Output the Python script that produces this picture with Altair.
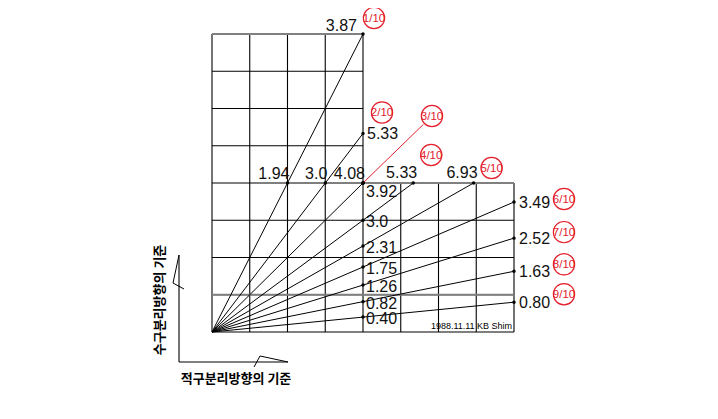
import math
import altair as alt
import pandas as pd

# ---------------- data ----------------
fractions = ["1/10", "2/10", "3/10", "4/10", "5/10", "6/10", "7/10", "8/10", "9/10"]
end_x = [4, 4, 4, 5.33, 6.93, 8, 8, 8, 8]
end_y = [8, 5.33, 4, 4, 4, 3.49, 2.52, 1.63, 0.80]
end_labels = ["3.87", "5.33", "", "5.33", "6.93", "3.49", "2.52", "1.63", "0.80"]
top_labels = ["1.94", "3.0", "4.08"]                                   # rays 1-3 crossing y = 4
side_labels = ["3.92", "3.0", "2.31", "1.75", "1.26", "0.82", "0.40"]  # rays 3-9 crossing x = 4
author = "1988.11.11  KB Shim"
title_v = "수구분리방향의 기준"
title_h = "적구분리방향의 기준"

# ---------------- layout ----------------
W, H = 700, 400
PX, PY = 37.75, 37.25           # pixels per grid cell
X0, Y0 = 212 - 8, 332 - 8       # origin inside the view
XMIN = -X0 / PX
XMAX = XMIN + W / PX
YMAX = Y0 / PY
YMIN = YMAX - H / PY
RED = "#e3202b"
R_CIRC = 12
callout_offset_px = [(11, -16), (19, -21), (69, -67), (18, -28), (18, -15),
                     (50, -3), (50, -6), (50, -7), (50, -8)]

xs = alt.Scale(domain=[XMIN, XMAX], nice=False, zero=False)
ys = alt.Scale(domain=[YMIN, YMAX], nice=False, zero=False)


def X(f):
    return alt.X(f"{f}:Q", scale=xs, axis=None)


def Y(f):
    return alt.Y(f"{f}:Q", scale=ys, axis=None)


# ---------------- tables ----------------
grid_rows = []
for c in range(9):
    grid_rows.append(dict(x=c, y=0, x2=c, y2=8 if c <= 4 else 4))
for r in range(9):
    grid_rows.append(dict(x=0, y=r, x2=8 if r <= 4 else 4, y2=r))
grid = pd.DataFrame(grid_rows)
grey = pd.DataFrame([dict(x=0, y=1, x2=8, y2=1), dict(x=4, y=4, x2=8, y2=4),
                     dict(x=0, y=8, x2=4, y2=8)])

rays = pd.DataFrame(dict(x=[0] * 9, y=[0] * 9, x2=end_x, y2=end_y, frac=fractions))
ends = pd.DataFrame(dict(x=end_x, y=end_y, text=end_labels))

top_pts = pd.DataFrame(dict(x=[4 * end_x[i] / end_y[i] for i in range(3)],
                            y=[4] * 3, text=top_labels))
side_pts = pd.DataFrame(dict(x=[4] * 7, y=[4 * end_y[i] / end_x[i] for i in range(2, 9)],
                             text=side_labels))

cx = [end_x[i] + callout_offset_px[i][0] / PX for i in range(9)]
cy = [end_y[i] - callout_offset_px[i][1] / PY for i in range(9)]
circles = pd.DataFrame(dict(x=cx, y=cy, text=fractions))

# red leader for 3/10
dxp, dyp = callout_offset_px[2]
L = math.hypot(dxp, dyp)
k = (L - R_CIRC) / L
leader = pd.DataFrame(dict(x=[end_x[2]], y=[end_y[2]],
                           x2=[end_x[2] + k * dxp / PX], y2=[end_y[2] - k * dyp / PY]))

# reference direction symbol (bottom-left)
sym_v = pd.DataFrame(dict(x=[-0.874, -0.874], y=[2.067, -0.805], x2=[-0.874, 2.013], y2=[-0.805, -0.805]))
lead_v = pd.DataFrame(dict(x=[-0.874, -1.033, -0.742], y=[2.067, 1.315, 1.154], o=[0, 1, 2]))
lead_h = pd.DataFrame(dict(x=[2.013, 1.272, 1.113], y=[-0.805, -0.644, -0.940], o=[0, 1, 2]))

titles = pd.DataFrame(dict(x=[-1.39, 0.636], y=[0.86, -1.26], text=[title_v, title_h], a=[270, 0]))
foot = pd.DataFrame(dict(x=[7.95], y=[0.15], text=[author]))

NUMFONT = dict(font="Liberation Sans", fontSize=16, color="#111111")

layers = [
    alt.Chart(grid).mark_rule(color="#000000", strokeWidth=1.1).encode(
        x=X("x"), y=Y("y"), x2="x2", y2="y2"),
    alt.Chart(grey).mark_rule(color="#808080", strokeWidth=2).encode(
        x=X("x"), y=Y("y"), x2="x2", y2="y2"),
    alt.Chart(rays).mark_rule(color="#000000", strokeWidth=1).encode(
        x=X("x"), y=Y("y"), x2="x2", y2="y2"),
    alt.Chart(leader).mark_rule(color=RED, strokeWidth=1).encode(
        x=X("x"), y=Y("y"), x2="x2", y2="y2"),
    alt.Chart(ends).mark_point(filled=True, size=12, color="#000000", opacity=1).encode(
        x=X("x"), y=Y("y")),
    alt.Chart(top_pts).mark_point(filled=True, size=12, color="#000000", opacity=1).encode(
        x=X("x"), y=Y("y")),
    alt.Chart(side_pts).mark_point(filled=True, size=12, color="#000000", opacity=1).encode(
        x=X("x"), y=Y("y")),
    # labels
    alt.Chart(ends.iloc[[0]]).mark_text(align="right", baseline="alphabetic", dx=-6, dy=-3, **NUMFONT).encode(
        x=X("x"), y=Y("y"), text="text:N"),
    alt.Chart(ends.iloc[[1]]).mark_text(align="left", baseline="middle", dx=4, dy=1, **NUMFONT).encode(
        x=X("x"), y=Y("y"), text="text:N"),
    alt.Chart(ends.iloc[[3, 4]]).mark_text(align="right", baseline="alphabetic", dx=4, dy=-5, **NUMFONT).encode(
        x=X("x"), y=Y("y"), text="text:N"),
    alt.Chart(ends.iloc[5:]).mark_text(align="left", baseline="middle", dx=5, dy=1, **NUMFONT).encode(
        x=X("x"), y=Y("y"), text="text:N"),
    alt.Chart(top_pts).mark_text(align="right", baseline="alphabetic", dx=2, dy=-4, **NUMFONT).encode(
        x=X("x"), y=Y("y"), text="text:N"),
    alt.Chart(side_pts.iloc[[0]]).mark_text(align="left", baseline="middle", dx=3, dy=9, **NUMFONT).encode(
        x=X("x"), y=Y("y"), text="text:N"),
    alt.Chart(side_pts.iloc[1:]).mark_text(align="left", baseline="middle", dx=3, dy=2, **NUMFONT).encode(
        x=X("x"), y=Y("y"), text="text:N"),
    # red callouts
    alt.Chart(circles).mark_point(shape="circle", size=math.pi * R_CIRC ** 2, filled=False,
                                  color=RED, strokeWidth=1.2, opacity=1).encode(
        x=X("x"), y=Y("y")),
    alt.Chart(circles).mark_text(font="Liberation Sans", fontSize=11.5, color=RED,
                                 align="center", baseline="middle", dy=1).encode(
        x=X("x"), y=Y("y"), text="text:N"),
    # direction symbol
    alt.Chart(sym_v).mark_rule(color="#000000", strokeWidth=1.1).encode(
        x=X("x"), y=Y("y"), x2="x2", y2="y2"),
    alt.Chart(lead_v).mark_line(color="#000000", strokeWidth=1).encode(
        x=X("x"), y=Y("y"), order="o:Q"),
    alt.Chart(lead_h).mark_line(color="#000000", strokeWidth=1).encode(
        x=X("x"), y=Y("y"), order="o:Q"),
    alt.Chart(titles).mark_text(font="Noto Sans CJK KR", fontSize=13, fontWeight="bold",
                                color="#000000", align="center", baseline="middle").encode(
        x=X("x"), y=Y("y"), text="text:N", angle=alt.Angle("a:Q", scale=None)),
    alt.Chart(foot).mark_text(font="Liberation Sans Narrow, Liberation Sans", fontSize=9,
                              color="#000000", align="right", baseline="middle").encode(
        x=X("x"), y=Y("y"), text="text:N"),
]

chart = alt.layer(*layers).properties(
    width=W, height=H, padding=0, autosize=alt.AutoSizeParams(type="none"),
    background="white",
).configure_view(stroke=None)

chart.save("out.html", embed_options={"renderer": "svg", "actions": False})
